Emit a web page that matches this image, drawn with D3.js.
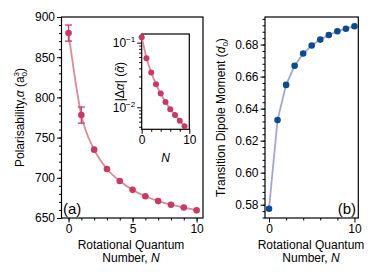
<!DOCTYPE html>
<html><head><meta charset="utf-8">
<script src="https://cdn.jsdelivr.net/npm/d3@7"></script>
<style>body{margin:0;background:#fff}svg{display:block}text{font-family:"Liberation Sans",Arial,Helvetica,sans-serif}</style>
</head><body>
<svg id="c" width="374" height="280"></svg>
<script>
// ---- data ----
const nAlpha = [0,1,2,3,4,5,6,7,8,9,10];
const alphaVals = [880,778,735,711,696,685,677,671,666.5,663,659.5];
const alphaErr = [10,10,0,0,0,0,0,0,0,0,0];
const nInset = [0,1,2,3,4,5,6,7,8,9];
const dAlphaVals = [0.121,0.0574,0.0344,0.0227,0.0163,0.0121,0.0093,0.0076,0.0062,0.0051];
const nDip = [0,1,2,3,4,5,6,7,8,9,10];
const dipVals = [0.5775,0.6329,0.6548,0.6668,0.6744,0.6794,0.6831,0.686,0.6883,0.6899,0.6914];
const leftYTicks = [650,700,750,800,850,900];
const leftXTicks = [0,5,10];
const rightYTicks = [0.58,0.60,0.62,0.64,0.66,0.68];
const rightXTicks = [0,10];
const insetXTicks = [0,10];
const insetYTicks = [0.01,0.1];

const svg = d3.select("#c");
const FS = 12;
const pinkM = "#c93a62", pinkL = "#d98c98";
const blueM = "#0b4c8c", blueL = "#a2a7d6";

function minorRange(a,b,s){const r=[];for(let v=a;v<=b+1e-9;v+=s)r.push(+v.toFixed(6));return r;}

function drawAxes(g, x, y, opts){
  // minor ticks
  g.append("g").attr("transform",`translate(0,${y.range()[0]})`)
    .call(d3.axisBottom(x).tickValues(opts.xMinor).tickSize(2.5).tickFormat(""))
    .call(s=>s.select(".domain").remove());
  g.append("g").attr("transform",`translate(${x.range()[0]},0)`)
    .call(d3.axisLeft(y).tickValues(opts.yMinor).tickSize(2.5).tickFormat(""))
    .call(s=>s.select(".domain").remove());
  const xa = g.append("g").attr("transform",`translate(0,${y.range()[0]})`)
    .call(d3.axisBottom(x).tickValues(opts.xTicks).tickSize(4.5).tickPadding(2).tickFormat(opts.xFmt||d3.format("d")));
  xa.select(".domain").remove();
  xa.selectAll("text").attr("font-size",FS).attr("fill","#000");
  const ya = g.append("g").attr("transform",`translate(${x.range()[0]},0)`)
    .call(d3.axisLeft(y).tickValues(opts.yTicks).tickSize(4.5).tickPadding(2).tickFormat(opts.yFmt));
  ya.select(".domain").remove();
  ya.selectAll("text").attr("font-size",FS).attr("fill","#000");
  g.selectAll(".tick line").attr("stroke","#000").attr("stroke-width",1);
  g.append("rect").attr("x",x.range()[0]).attr("y",y.range()[1])
    .attr("width",x.range()[1]-x.range()[0]).attr("height",y.range()[0]-y.range()[1])
    .attr("fill","none").attr("stroke","#000").attr("stroke-width",1.2);
  return {xa,ya};
}

// ---- left panel ----
const xL = d3.scaleLinear().domain([-0.55,10.5]).range([61.5,203]);
const yL = d3.scaleLinear().domain([650,900]).range([218,17]);
const gL = svg.append("g");
drawAxes(gL,xL,yL,{xTicks:leftXTicks,xMinor:minorRange(0,10,1),yTicks:leftYTicks,yMinor:minorRange(650,900,10),yFmt:d3.format("d")});
gL.append("path").datum(nAlpha.map((n,i)=>[n,alphaVals[i]]))
  .attr("d",d3.line().x(d=>xL(d[0])).y(d=>yL(d[1])).curve(d3.curveMonotoneX))
  .attr("fill","none").attr("stroke",pinkL).attr("stroke-width",1.8);
nAlpha.forEach((n,i)=>{
  if(alphaErr[i]>0){
    const cx=xL(n), y1=yL(alphaVals[i]+alphaErr[i]), y2=yL(alphaVals[i]-alphaErr[i]);
    gL.append("line").attr("x1",cx).attr("x2",cx).attr("y1",y1).attr("y2",y2).attr("stroke",pinkM).attr("stroke-width",1.3);
    [y1,y2].forEach(yy=>gL.append("line").attr("x1",cx-3.5).attr("x2",cx+3.5).attr("y1",yy).attr("y2",yy).attr("stroke",pinkM).attr("stroke-width",1.3));
  }
});
gL.selectAll("circle.m").data(nAlpha).enter().append("circle")
  .attr("cx",d=>xL(d)).attr("cy",(d,i)=>yL(alphaVals[i])).attr("r",3.3).attr("fill",pinkM);
gL.append("text").attr("x",63).attr("y",214).attr("font-size",15).text("(a)");
// y label
const tL = svg.append("text").attr("transform",`translate(24,${(17+218)/2}) rotate(-90)`)
  .attr("text-anchor","middle").attr("font-size",FS);
tL.append("tspan").text("Polarisability,");
tL.append("tspan").attr("font-style","italic").text("α");
tL.append("tspan").text(" (a");
tL.append("tspan").attr("font-size",8).attr("dy",-5).text("3");
tL.append("tspan").attr("font-size",8).attr("dx",-4.5).attr("dy",8).text("0");
tL.append("tspan").attr("dy",-3).text(")");
// x label
function xTitle(cx){
  svg.append("text").attr("x",cx).attr("y",249).attr("text-anchor","middle").attr("font-size",FS).text("Rotational Quantum");
  const t=svg.append("text").attr("x",cx).attr("y",262).attr("text-anchor","middle").attr("font-size",FS);
  t.append("tspan").text("Number, ");
  t.append("tspan").attr("font-style","italic").text("N");
}
xTitle(131);

// ---- inset ----
const xI = d3.scaleLinear().domain([0,10]).range([141.7,189.3]);
const yI = d3.scaleLog().domain([0.00457,0.136]).range([129.3,34]);
const gI = svg.append("g");
gI.append("rect").attr("x",141.7).attr("y",34).attr("width",189.3-141.7).attr("height",129.3-34).attr("fill","#fff");
const insetMinor=[];[0.001,0.01,0.1].forEach(b=>{for(let k=2;k<=9;k++){const v=b*k;if(v>=0.00457&&v<=0.136)insetMinor.push(v);}});
const supFmt = d=>"";
const ax = drawAxes(gI,xI,yI,{xTicks:insetXTicks,xMinor:[2,4,6,8],yTicks:insetYTicks,yMinor:insetMinor,yFmt:supFmt});
ax.ya.selectAll(".tick").each(function(d){
  const t=d3.select(this).select("text").attr("dy","0.35em");
  t.append("tspan").text("10");
  t.append("tspan").attr("font-size",8).attr("dy",-5).text(d===0.1?"−1":"−2");
});
gI.append("path").datum(nInset.map((n,i)=>[n,dAlphaVals[i]]))
  .attr("d",d3.line().x(d=>xI(d[0])).y(d=>yI(d[1])))
  .attr("fill","none").attr("stroke",pinkL).attr("stroke-width",1.8);
gI.selectAll("circle.m").data(nInset).enter().append("circle")
  .attr("cx",d=>xI(d)).attr("cy",(d,i)=>yI(dAlphaVals[i])).attr("r",3).attr("fill",pinkM);
const tI = svg.append("text").attr("transform",`translate(124,${(34+129.3)/2}) rotate(-90)`)
  .attr("text-anchor","middle").attr("font-size",FS);
tI.append("tspan").text("|Δ");
tI.append("tspan").attr("font-style","italic").text("α");
tI.append("tspan").text("| (");
tI.append("tspan").attr("font-style","italic").text("ᾱ");
tI.append("tspan").text(")");
svg.append("text").attr("x",165.5).attr("y",162).attr("text-anchor","middle").attr("font-size",FS).attr("font-style","italic").text("N");

// ---- right panel ----
const xR = d3.scaleLinear().domain([-0.47,10.45]).range([265,358.3]);
const yR = d3.scaleLinear().domain([0.5717,0.6972]).range([218,17]);
const gR = svg.append("g");
drawAxes(gR,xR,yR,{xTicks:rightXTicks,xMinor:[2,4,6,8],yTicks:rightYTicks,yMinor:minorRange(0.572,0.696,0.004),yFmt:d3.format(".2f")});
gR.append("path").datum(nDip.map((n,i)=>[n,dipVals[i]]))
  .attr("d",d3.line().x(d=>xR(d[0])).y(d=>yR(d[1])))
  .attr("fill","none").attr("stroke",blueL).attr("stroke-width",1.8);
gR.selectAll("circle.m").data(nDip).enter().append("circle")
  .attr("cx",d=>xR(d)).attr("cy",(d,i)=>yR(dipVals[i])).attr("r",3.3).attr("fill",blueM);
gR.append("text").attr("x",356).attr("y",214).attr("text-anchor","end").attr("font-size",15).text("(b)");
const tR = svg.append("text").attr("transform",`translate(225,${(17+218)/2}) rotate(-90)`)
  .attr("text-anchor","middle").attr("font-size",FS);
tR.append("tspan").text("Transition Dipole Moment (");
tR.append("tspan").attr("font-style","italic").text("d");
tR.append("tspan").attr("font-size",8).attr("dy",3).text("0");
tR.append("tspan").attr("dy",-3).text(")");
xTitle(311);
</script>
</body></html>
